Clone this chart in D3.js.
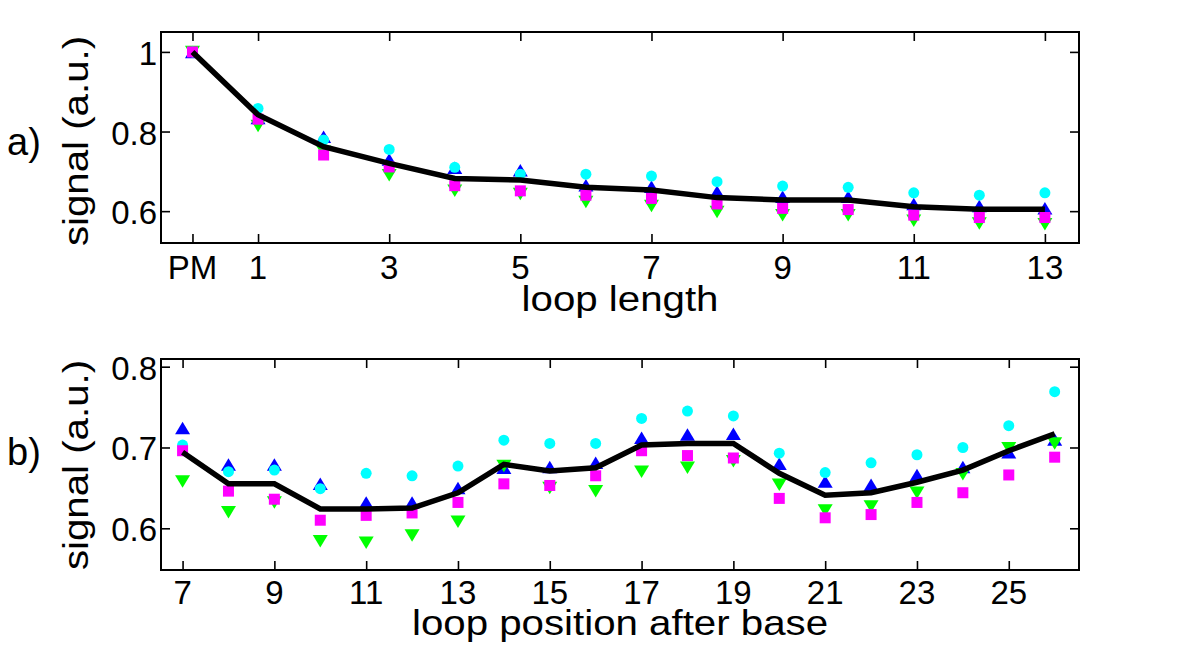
<!DOCTYPE html>
<html>
<head>
<meta charset="utf-8">
<script src="https://cdn.jsdelivr.net/npm/d3@7"></script>
<style>
  html, body { margin: 0; padding: 0; background: #fff; }
  svg { display: block; font-family: "Liberation Sans", Arial, Helvetica, sans-serif; }
</style>
</head>
<body>
<svg id="chart" width="1200" height="652"></svg>
<script>
// ---------- Panel a) data ----------
const topX = [0, 1, 2, 3, 4, 5, 6, 7, 8, 9, 10, 11, 12, 13];
const topTickValues = [0, 1, 3, 5, 7, 9, 11, 13];
const topTickLabels = ["PM", "1", "3", "5", "7", "9", "11", "13"];
const topYTicks = [0.6, 0.8, 1];
const topYTickLabels = ["0.6", "0.8", "1"];
const topMean    = [1.0, 0.842, 0.762, 0.720, 0.682, 0.678, 0.660, 0.653, 0.634, 0.628, 0.628, 0.611, 0.605, 0.605];
const topBlue    = [1.0, 0.834, 0.787, 0.730, 0.709, 0.703, 0.665, 0.661, 0.649, 0.636, 0.636, 0.618, 0.613, 0.607];
const topCyan    = [1.0, 0.858, 0.779, 0.755, 0.710, 0.693, 0.693, 0.688, 0.674, 0.663, 0.660, 0.646, 0.640, 0.646];
const topGreen   = [1.0, 0.814, 0.749, 0.690, 0.651, 0.643, 0.623, 0.613, 0.598, 0.590, 0.590, 0.576, 0.569, 0.567];
const topMagenta = [1.0, 0.831, 0.741, 0.711, 0.664, 0.651, 0.640, 0.632, 0.618, 0.607, 0.604, 0.590, 0.584, 0.584];

// ---------- Panel b) data ----------
const botX = [7, 8, 9, 10, 11, 12, 13, 14, 15, 16, 17, 18, 19, 20, 21, 22, 23, 24, 25, 26];
const botTickValues = [7, 9, 11, 13, 15, 17, 19, 21, 23, 25];
const botYTicks = [0.6, 0.7, 0.8];
const botYTickLabels = ["0.6", "0.7", "0.8"];
const botMean    = [0.694, 0.655, 0.655, 0.624, 0.624, 0.625, 0.644, 0.679, 0.671, 0.675, 0.703, 0.705, 0.705, 0.668, 0.641, 0.644, 0.657, 0.672, 0.696, 0.717];
const botBlue    = [0.724, 0.679, 0.679, 0.655, 0.632, 0.632, 0.650, 0.675, 0.676, 0.681, 0.712, 0.716, 0.717, 0.680, 0.658, 0.654, 0.666, 0.676, 0.694, 0.710];
const botCyan    = [0.703, 0.670, 0.672, 0.649, 0.668, 0.665, 0.677, 0.709, 0.705, 0.705, 0.736, 0.745, 0.739, 0.693, 0.669, 0.681, 0.691, 0.700, 0.727, 0.769];
const botGreen   = [0.658, 0.620, 0.632, 0.584, 0.582, 0.591, 0.608, 0.677, 0.650, 0.646, 0.670, 0.675, 0.683, 0.654, 0.622, 0.627, 0.644, 0.667, 0.699, 0.705];
const botMagenta = [0.696, 0.646, 0.636, 0.610, 0.616, 0.619, 0.632, 0.655, 0.653, 0.665, 0.696, 0.690, 0.687, 0.637, 0.613, 0.617, 0.632, 0.644, 0.666, 0.688];

const svg = d3.select("#chart");
const LABEL_STRETCH = 1.15;

function upTri(w, h) { return `M0,${-h/2}L${w/2},${h/2}L${-w/2},${h/2}Z`; }
function downTri(w, h) { return `M0,${h/2}L${w/2},${-h/2}L${-w/2},${-h/2}Z`; }

function panel(opt) {
  const g = svg.append("g");
  const x = d3.scaleLinear().domain(opt.xDomain).range([opt.left, opt.right]);
  const y = d3.scaleLinear().domain(opt.yDomain).range([opt.bottom, opt.top]);
  const tickLen = 9;

  // axes (inward ticks, mirrored on all four sides)
  const axB = d3.axisBottom(x).tickValues(opt.xTicks).tickSize(-tickLen).tickPadding(0).tickFormat(() => "");
  const axT = d3.axisTop(x).tickValues(opt.xTicks).tickSize(-tickLen).tickFormat(() => "");
  const axL = d3.axisLeft(y).tickValues(opt.yTicks).tickSize(-tickLen).tickFormat(() => "");
  const axR = d3.axisRight(y).tickValues(opt.yTicks).tickSize(-tickLen).tickFormat(() => "");
  [[axB, `translate(0,${opt.bottom})`], [axT, `translate(0,${opt.top})`],
   [axL, `translate(${opt.left},0)`], [axR, `translate(${opt.right},0)`]].forEach(([ax, tr]) => {
    const a = g.append("g").attr("transform", tr).call(ax);
    a.select(".domain").remove();
    a.selectAll(".tick line").attr("stroke", "#000").attr("stroke-width", 1.6);
  });

  // frame
  g.append("rect")
    .attr("x", opt.left).attr("y", opt.top)
    .attr("width", opt.right - opt.left).attr("height", opt.bottom - opt.top)
    .attr("fill", "none").attr("stroke", "#000").attr("stroke-width", 2);

  // tick labels
  g.selectAll(".xtl").data(opt.xTicks).enter().append("text")
    .attr("x", d => x(d)).attr("y", opt.bottom + opt.xLabelOffset)
    .attr("text-anchor", "middle").attr("font-size", 33).attr("fill", "#000")
    .text((d, i) => opt.xTickLabels[i]);
  g.selectAll(".ytl").data(opt.yTicks).enter().append("text")
    .attr("x", opt.left - 4).attr("y", d => y(d) + 13)
    .attr("text-anchor", "end").attr("font-size", 33).attr("fill", "#000")
    .text((d, i) => opt.yTickLabels[i]);

  // axis labels
  g.append("text")
    .attr("transform", `translate(${(opt.left + opt.right) / 2},${opt.xTitleY}) scale(${LABEL_STRETCH},1)`)
    .attr("text-anchor", "middle").attr("font-size", 35).attr("fill", "#000")
    .text(opt.xTitle);
  g.append("text")
    .attr("transform", `translate(88,${opt.yTitleY}) rotate(-90) scale(${LABEL_STRETCH},1)`)
    .attr("text-anchor", "middle").attr("font-size", 35).attr("fill", "#000")
    .text("signal (a.u.)");

  // panel letter
  g.append("text")
    .attr("x", 7).attr("y", opt.letterY)
    .attr("font-size", 38).attr("fill", "#000")
    .text(opt.letter);

  const xs = opt.xs;
  // markers: blue up-triangles, green down-triangles, cyan circles, magenta squares
  g.selectAll(".blue").data(opt.blue).enter().append("path")
    .attr("d", upTri(15, 12.5))
    .attr("transform", (d, i) => `translate(${x(xs[i])},${y(d)})`)
    .attr("fill", "#0000ff");
  g.selectAll(".green").data(opt.green).enter().append("path")
    .attr("d", downTri(15, 12.5))
    .attr("transform", (d, i) => `translate(${x(xs[i])},${y(d)})`)
    .attr("fill", "#00ff00");
  g.selectAll(".cyan").data(opt.cyan).enter().append("circle")
    .attr("cx", (d, i) => x(xs[i])).attr("cy", d => y(d)).attr("r", 5.5)
    .attr("fill", "#00ffff");
  g.selectAll(".mag").data(opt.magenta).enter().append("rect")
    .attr("x", (d, i) => x(xs[i]) - 5.5).attr("y", d => y(d) - 5.5)
    .attr("width", 11).attr("height", 11)
    .attr("fill", "#ff00ff");

  // mean line
  const line = d3.line().x((d, i) => x(xs[i])).y(d => y(d));
  g.append("path").datum(opt.mean)
    .attr("d", line).attr("fill", "none")
    .attr("stroke", "#000").attr("stroke-width", 5.5)
    .attr("stroke-linejoin", "miter");
}

panel({
  left: 161, right: 1079, top: 32, bottom: 243,
  xDomain: [-0.48, 13.52], yDomain: [0.52, 1.05],
  xTicks: topTickValues, xTickLabels: topTickLabels,
  yTicks: topYTicks, yTickLabels: topYTickLabels,
  xLabelOffset: 36, xTitle: "loop length", xTitleY: 311, yTitleY: 141,
  letter: "a)", letterY: 155,
  xs: topX, mean: topMean, blue: topBlue, cyan: topCyan, green: topGreen, magenta: topMagenta
});

panel({
  left: 161, right: 1079, top: 359, bottom: 570,
  xDomain: [6.53, 26.53], yDomain: [0.5484, 0.8095],
  xTicks: botTickValues, xTickLabels: botTickValues.map(String),
  yTicks: botYTicks, yTickLabels: botYTickLabels,
  xLabelOffset: 34, xTitle: "loop position after base", xTitleY: 635, yTitleY: 465,
  letter: "b)", letterY: 465,
  xs: botX, mean: botMean, blue: botBlue, cyan: botCyan, green: botGreen, magenta: botMagenta
});
</script>
</body>
</html>
